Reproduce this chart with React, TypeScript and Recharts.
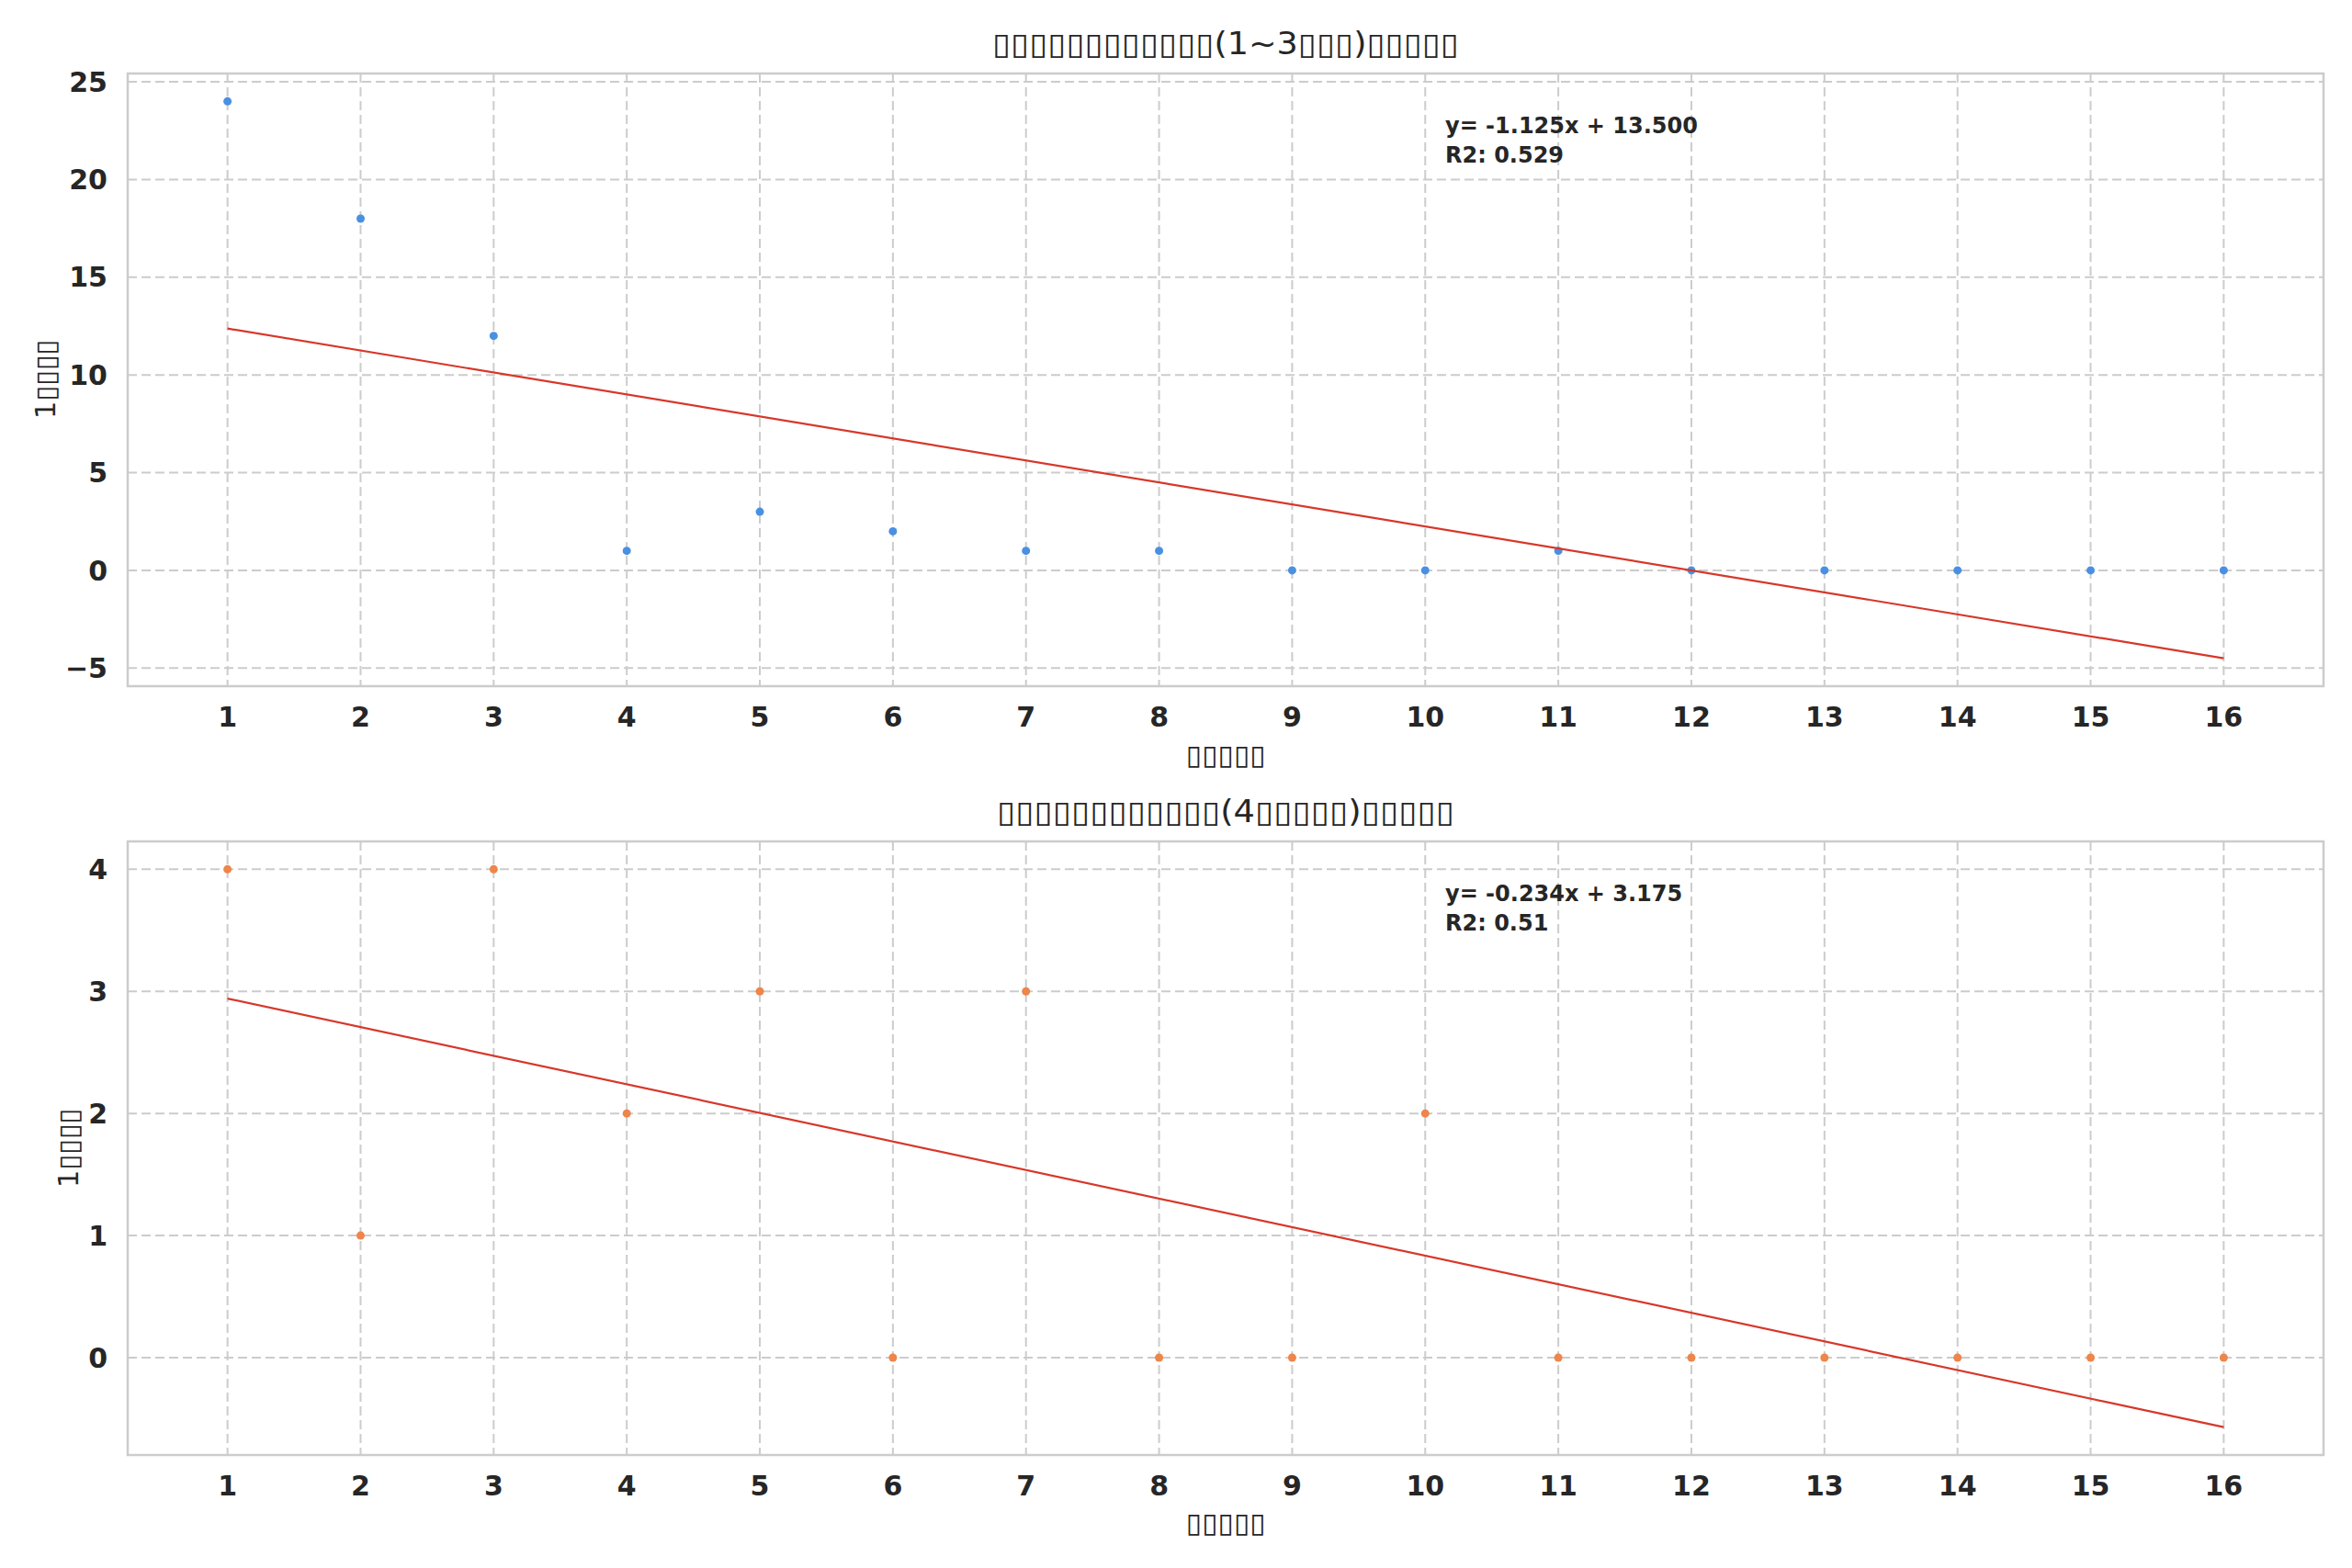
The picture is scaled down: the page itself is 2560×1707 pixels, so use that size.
import { ScatterChart, Scatter, XAxis, YAxis, CartesianGrid, ReferenceArea } from "recharts"

// x: elapsed day, y: count per day
const days = [1, 2, 3, 4, 5, 6, 7, 8, 9, 10, 11, 12, 13, 14, 15, 16]
const shortCounts = [24, 18, 12, 1, 3, 2, 1, 1, 0, 0, 1, 0, 0, 0, 0, 0]
const longCounts = [4, 1, 4, 2, 3, 0, 3, 0, 0, 2, 0, 0, 0, 0, 0, 0]

// regression line end points (x = 1 and x = 16)
const fitX = [1, 16]
const shortFitY = [12.375, -4.5]
const longFitY = [2.941, -0.569]

const xDomain = [0.25, 16.75]
const shortDomain = [-5.925, 25.425]
const longDomain = [-0.797, 4.228]
const shortTicks = [-5, 0, 5, 10, 15, 20, 25]
const longTicks = [0, 1, 2, 3, 4]

// the source titles are tofu boxes, kept as box characters
const B = "\u25AF"
const shortTitle = B.repeat(12) + "(1~3" + B.repeat(3) + ")" + B.repeat(5)
const longTitle = B.repeat(12) + "(4" + B.repeat(5) + ")" + B.repeat(5)
const xLabel = B.repeat(5)
const yLabel = "1" + B.repeat(4)
const shortNote = ["y= -1.125x + 13.500", "R2: 0.529"]
const longNote = ["y= -0.234x + 3.175", "R2: 0.51"]

const FONT = "'DejaVu Sans', sans-serif"
const TEXT = "#262626"
const EDGE = "#cccccc"
const BLUE = "#4a90e2"
const ORANGE = "#ee854a"
const RED = "#d7372a"

const toPoints = (ys: number[]) => days.map((x, i) => ({ x, y: ys[i] }))
const toFit = (ys: number[]) => fitX.map((x, i) => ({ x, y: ys[i] }))
const fmt = (v: number) => (v < 0 ? `\u2212${-v}` : `${v}`)

const tickStyle = { fontSize: 30, fontWeight: "bold", fill: TEXT, fontFamily: FONT }

function Panel({
  points,
  fit,
  domain,
  ticks,
  color,
  height,
  margin,
}: {
  points: { x: number; y: number }[]
  fit: { x: number; y: number }[]
  domain: number[]
  ticks: number[]
  color: string
  height: number
  margin: { top: number; right: number; bottom: number; left: number }
}) {
  return (
    <ScatterChart width={2560} height={height} margin={margin}>
      <CartesianGrid stroke={EDGE} strokeWidth={2} strokeDasharray="10 5" />
      <XAxis
        type="number"
        dataKey="x"
        domain={xDomain}
        ticks={days}
        interval={0}
        allowDataOverflow
        axisLine={false}
        tickLine={false}
        tickSize={0}
        tickMargin={23}
        height={60}
        tick={tickStyle}
      />
      <YAxis
        type="number"
        dataKey="y"
        domain={domain}
        ticks={ticks}
        interval={0}
        allowDataOverflow
        axisLine={false}
        tickLine={false}
        tickSize={0}
        tickMargin={22}
        width={139}
        tickFormatter={fmt}
        tick={tickStyle}
      />
      <ReferenceArea
        x1={xDomain[0]}
        x2={xDomain[1]}
        y1={domain[0]}
        y2={domain[1]}
        fill="none"
        stroke={EDGE}
        strokeWidth={2.5}
        ifOverflow="visible"
      />
      <Scatter
        data={points}
        fill={color}
        isAnimationActive={false}
        shape={(p: any) => <circle cx={p.cx} cy={p.cy} r={4.5} fill={color} />}
      />
      <Scatter
        data={fit}
        line={{ stroke: RED, strokeWidth: 2.2 }}
        isAnimationActive={false}
        shape={() => <g />}
      />
    </ScatterChart>
  )
}

function Texts({
  dy,
  title,
  titleWidth,
  note,
}: {
  dy: number
  title: string
  titleWidth: number
  note: string[]
}) {
  return (
    <g fontFamily={FONT} fill={TEXT}>
      <text
        x={1334}
        y={59 + dy}
        textAnchor="middle"
        fontSize={33}
        textLength={titleWidth}
        lengthAdjust="spacingAndGlyphs"
      >
        {title}
      </text>
      <text x={1573} y={145 + dy} fontSize={24} fontWeight="bold">
        {note[0]}
      </text>
      <text x={1573} y={177 + dy} fontSize={24} fontWeight="bold">
        {note[1]}
      </text>
      <text
        x={1334}
        y={821 + dy}
        textAnchor="middle"
        dominantBaseline="central"
        fontSize={30}
        textLength={87}
        lengthAdjust="spacingAndGlyphs"
      >
        {xLabel}
      </text>
    </g>
  )
}

export default function App() {
  return (
    <div style={{ position: "relative", width: 2560, height: 1707, background: "#fff" }}>
      <style>{`body{margin:0}`}</style>
      <div style={{ position: "absolute", left: 0, top: 0 }}>
        <Panel
          points={toPoints(shortCounts)}
          fit={toFit(shortFitY)}
          domain={shortDomain}
          ticks={shortTicks}
          color={BLUE}
          height={860}
          margin={{ top: 80, right: 31, bottom: 53, left: 0 }}
        />
      </div>
      <div style={{ position: "absolute", left: 0, top: 860 }}>
        <Panel
          points={toPoints(longCounts)}
          fit={toFit(longFitY)}
          domain={longDomain}
          ticks={longTicks}
          color={ORANGE}
          height={847}
          margin={{ top: 56, right: 31, bottom: 63, left: 0 }}
        />
      </div>
      <svg
        width={2560}
        height={1707}
        style={{ position: "absolute", left: 0, top: 0, pointerEvents: "none" }}
      >
        <Texts dy={0} title={shortTitle} titleWidth={508} note={shortNote} />
        <Texts dy={836} title={longTitle} titleWidth={498} note={longNote} />
        <g fontFamily={FONT} fill={TEXT} fontSize={30}>
          <text
            x={49}
            y={413}
            textAnchor="middle"
            dominantBaseline="central"
            textLength={86}
            lengthAdjust="spacingAndGlyphs"
            transform="rotate(-90 49 413)"
          >
            {yLabel}
          </text>
          <text
            x={74}
            y={1250}
            textAnchor="middle"
            dominantBaseline="central"
            textLength={86}
            lengthAdjust="spacingAndGlyphs"
            transform="rotate(-90 74 1250)"
          >
            {yLabel}
          </text>
        </g>
      </svg>
    </div>
  )
}
